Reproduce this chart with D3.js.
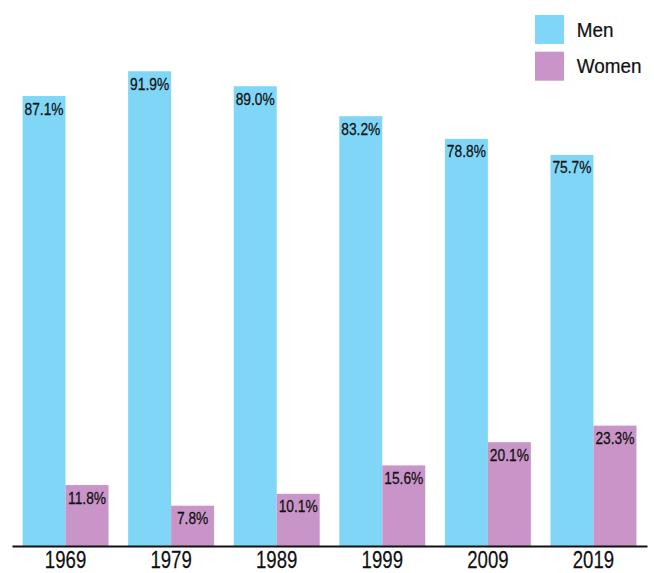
<!DOCTYPE html>
<html>
<head>
<meta charset="utf-8">
<script src="https://cdn.jsdelivr.net/npm/d3@7/dist/d3.min.js"></script>
<style>
  html, body { margin: 0; padding: 0; background: #fff; }
  svg { display: block; }
  text { font-family: "Liberation Sans", Arial, sans-serif; fill: #111; stroke: #111; stroke-width: 0.25px; }
</style>
</head>
<body>
<svg id="chart" width="654" height="573"></svg>
<script>
const years = ["1969", "1979", "1989", "1999", "2009", "2019"];
const seriesNames = ["Men", "Women"];
const menValues = [87.1, 91.9, 89.0, 83.2, 78.8, 75.7];
const womenValues = [11.8, 7.8, 10.1, 15.6, 20.1, 23.3];
const seriesColors = ["#80d6f7", "#c994c7"];

const svg = d3.select("#chart");
const baseY = 546;

const x0 = d3.scaleBand().domain(years).range([12, 647]).paddingInner(0.186).paddingOuter(0.1);
const x1 = d3.scaleBand().domain(seriesNames).range([0, x0.bandwidth()]).padding(0);
const y = d3.scaleLinear().domain([0, 100]).range([baseY, 29.4]);
const color = d3.scaleOrdinal().domain(seriesNames).range(seriesColors);

const rows = years.map((yr, i) => ({
  year: yr,
  values: [
    { key: "Men", value: menValues[i] },
    { key: "Women", value: womenValues[i] }
  ]
}));

const groups = svg.append("g").selectAll("g")
  .data(rows).join("g")
  .attr("transform", d => `translate(${x0(d.year)},0)`);

groups.selectAll("rect")
  .data(d => d.values).join("rect")
  .attr("x", d => x1(d.key))
  .attr("y", d => y(d.value))
  .attr("width", x1.bandwidth())
  .attr("height", d => baseY - y(d.value))
  .attr("fill", d => color(d.key));

groups.selectAll("text.lbl")
  .data(d => d.values).join("text")
  .attr("class", "lbl")
  .attr("transform", d => `translate(${x1(d.key) + x1.bandwidth() / 2},${y(d.value) + 18.5}) scale(0.82,1)`)
  .attr("text-anchor", "middle")
  .style("font-size", "16.8px")
  .text(d => d.value.toFixed(1) + "%");

const axis = svg.append("g")
  .attr("transform", `translate(0,${baseY})`)
  .call(d3.axisBottom(x0).tickSize(0).tickSizeOuter(0));
axis.select(".domain").attr("stroke", "#111").attr("stroke-width", 2);
axis.selectAll("text")
  .attr("y", 0).attr("dy", null)
  .attr("transform", "translate(0,21.5) scale(0.76,1)")
  .style("font-size", "24.5px")
  .style("font-family", "\"Liberation Sans\", Arial, sans-serif")
  .attr("fill", "#111");

const legend = svg.append("g").selectAll("g")
  .data(seriesNames).join("g")
  .attr("transform", (d, i) => `translate(535,${15 + i * 36.7})`);
legend.append("rect")
  .attr("width", 29).attr("height", 29)
  .attr("fill", d => color(d));
legend.append("text")
  .attr("transform", "translate(41.7,21.7) scale(0.9,1)")
  .style("font-size", "21px")
  .text(d => d);
</script>
</body>
</html>
